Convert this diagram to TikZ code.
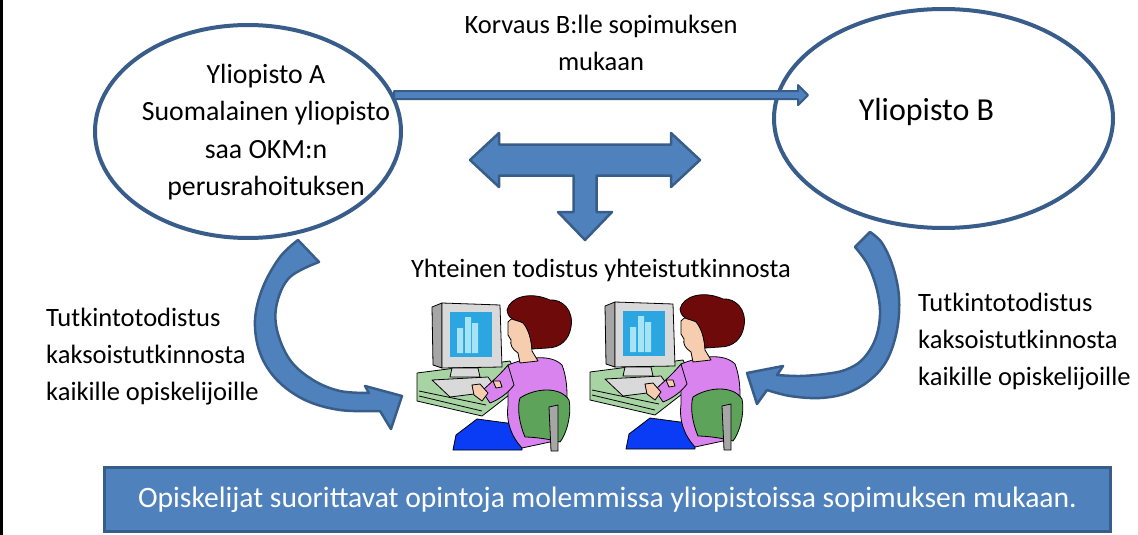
\documentclass[tikz,border=0pt]{standalone}
\usepackage{fontspec}
\setmainfont{Carlito}
\usetikzlibrary{arrows.meta,positioning,shapes.geometric,calc}

\definecolor{accblue}{HTML}{4F81BD}
\definecolor{accline}{HTML}{385D8A}
\definecolor{deskgreen}{HTML}{A8D4A4}
\definecolor{monilight}{HTML}{D9D9D9}
\definecolor{monigray}{HTML}{A6A6A6}
\definecolor{screenblue}{HTML}{2CA6E0}
\definecolor{barcyan}{HTML}{A4E4F6}
\definecolor{pantsblue}{HTML}{0A3CF5}
\definecolor{shirt}{HTML}{D983EE}
\definecolor{skin}{HTML}{F6CDAE}
\definecolor{hair}{HTML}{6E0A0A}
\definecolor{chair}{HTML}{5EA35A}

\begin{document}
\begin{tikzpicture}[x=1pt, y=-1pt,
  uni/.style={ellipse, draw=accline, line width=4pt, fill=white, inner sep=0pt},
  txt/.style={font=\fontsize{26.5}{37}\selectfont, align=center, inner sep=0pt},
  sidetxt/.style={txt, align=left, anchor=west},
  blockarr/.style={draw=accline, fill=accblue, line width=2.5pt, line join=round},
  banner/.style={rectangle, draw=accline, fill=accblue, line width=3pt, text=white, inner sep=0pt,
    minimum width=1006, minimum height=64, font=\fontsize{29.6}{34}\selectfont},
  inkline/.style={draw=black, line width=0.8pt, line join=round},
  student/.pic={
    % desk
    \draw[inkline, fill=deskgreen] (7,88) -- (100,76) -- (112,100) -- (72,131) -- (7,116) -- cycle;
    \draw[inkline] (9,111) -- (72,126) (9,106) -- (76,120);
    % monitor
    \draw[inkline, fill=monigray] (22,22) -- (32,18) -- (32,83) -- (23,80) -- cycle;
    \draw[inkline, fill=monilight] (32,18) -- (90,20) -- (92,82) -- (32,83) -- cycle;
    \fill[screenblue] (40,27) rectangle (82,72);
    \fill[barcyan] (47,43) rectangle (53,68) (55,32) rectangle (61,68) (62,38) rectangle (68,68);
    \draw[inkline, fill=monilight] (42,83) -- (68,83) -- (70,92) -- (40,92) -- cycle;
    \draw[inkline, fill=monilight] (22,95) -- (78,92) -- (88,106) -- (40,112) -- cycle;
    % woman
    \draw[inkline, fill=pantsblue] (43,165) -- (46,150) -- (67,134) -- (112,140) -- (112,165) -- cycle;
    \draw[inkline, fill=shirt] (98,80) .. controls (115,73) and (140,68) .. (152,80)
      .. controls (160,100) and (160,140) .. (140,157) -- (112,163)
      .. controls (100,150) and (96,135) .. (98,120) -- cycle;
    \draw[inkline, fill=shirt] (98,80) .. controls (88,92) and (78,100) .. (72,106) -- (80,118)
      .. controls (90,114) and (98,108) .. (104,100) -- cycle;
    \draw[inkline, fill=skin] (62,100) -- (70,99) -- (78,108) -- (72,116) -- (64,110) -- cycle;
    \draw[inkline, fill=skin] (83,96) -- (90,96) -- (92,102) -- (86,103) -- cycle;
    \draw[inkline, fill=skin] (98,37) .. controls (104,30) and (115,30) .. (120,42) -- (122,66)
      -- (128,76) -- (110,78) -- (108,68) .. controls (102,64) and (100,60) .. (101,55) -- (98,50) -- cycle;
    \draw[inkline, fill=hair] (97,25) .. controls (100,12) and (120,6) .. (140,15)
      .. controls (152,14) and (164,25) .. (161,42) .. controls (159,55) and (150,63) .. (137,63)
      -- (122,64) .. controls (121,55) and (119,45) .. (113,38) .. controls (106,34) and (99,37) .. (97,25) -- cycle;
    % chair
    \draw[inkline, fill=chair] (110,113) .. controls (125,103) and (150,101) .. (159,115)
      .. controls (162,130) and (156,150) .. (150,157) .. controls (135,153) and (120,152) .. (115,152)
      .. controls (109,138) and (107,122) .. (110,113) -- cycle;
    \draw[inkline, fill=monigray] (139,122) -- (148,120) -- (148,166) -- (141,166) -- cycle;
  }]

\useasboundingbox (0,0) rectangle (1138,535);
\fill[black] (0,0) rectangle (3,535);

\node[uni, minimum width=306, minimum height=213] (uniA) at (248,131.5) {};
\node[uni, minimum width=339, minimum height=219] (uniB) at (943.5,118.5) {};
\node[txt, font=\fontsize{27.8}{37.3}\selectfont] (txtA) at (266,132) {Yliopisto A\\Suomalainen yliopisto\\saa OKM:n\\perusrahoituksen};
\node[txt, font=\fontsize{32}{38}\selectfont, anchor=base] (txtB) at (926.5,120) {Yliopisto B};

\node[txt] (korvaus) at (601,42.5) {Korvaus B:lle sopimuksen\\mukaan};
\node[txt, anchor=base] (yhteinen) at (601,277) {Yhteinen todistus yhteistutkinnosta};
\node[sidetxt] (leftnote) at (46,357) {Tutkintotodistus\\kaksoistutkinnosta\\kaikille opiskelijoille};
\node[sidetxt] (rightnote) at (918,342) {Tutkintotodistus\\kaksoistutkinnosta\\kaikille opiskelijoille};

\node[banner] (banner) at (607.5,499.5) {Opiskelijat suorittavat opintoja molemmissa yliopistoissa sopimuksen mukaan.};

% payment arrow A -> B
\coordinate (payFrom) at (uniA.14);
\coordinate (payTo) at ($(uniB.west |- payFrom)+(36,0)$);
\draw[blockarr, line width=2pt] ($(payFrom)+(0,-4)$) -- ($(payTo)+(-10,-4)$) -- ($(payTo)+(-10,-10)$) -- (payTo)
  -- ($(payTo)+(-10,10)$) -- ($(payTo)+(-10,4)$) -- ($(payFrom)+(0,4)$) -- cycle;

% three-way arrow
\begin{scope}[shift={(585,160)}]
\draw[blockarr] (-115,0) -- (-86,-27) -- (-86,-15.5) -- (86,-15.5) -- (86,-27) -- (115,0) -- (86,27)
  -- (86,15.5) -- (11.5,15.5) -- (11.5,52) -- (27,52) -- (0,80) -- (-27,52) -- (-11.5,52)
  -- (-11.5,15.5) -- (-86,15.5) -- (-86,27) -- cycle;
\end{scope}

% curved arrows
\draw[blockarr] plot[smooth, tension=0.6] coordinates {(298,240) (280,257) (263,287) (255,320) (260,353) (277,380) (305,400) (340,410) (380,411)}
  -- (391,429) -- (402,396) -- (365,386)
  -- plot[smooth, tension=0.6] coordinates {(369,393) (340,391) (313,380) (290,360) (277,330) (277,303) (290,277) (319,262)} -- cycle;
\draw[blockarr] plot[smooth, tension=0.6] coordinates {(870,232) (882,243) (893,267) (899,297) (897,330) (887,360) (870,380) (847,393) (820,398) (790,396) (767,390)}
  -- (757,404) -- (747,373) -- (783,366)
  -- plot[smooth, tension=0.6] coordinates {(777,375) (800,376) (825,374) (845,370) (862,360) (875,340) (880,315) (877,290) (868,265) (855,247)} -- cycle;

% students
\foreach \dx/\dy in {410/285, 583/284}
  \pic at (\dx,\dy) {student};

\end{tikzpicture}
\end{document}
